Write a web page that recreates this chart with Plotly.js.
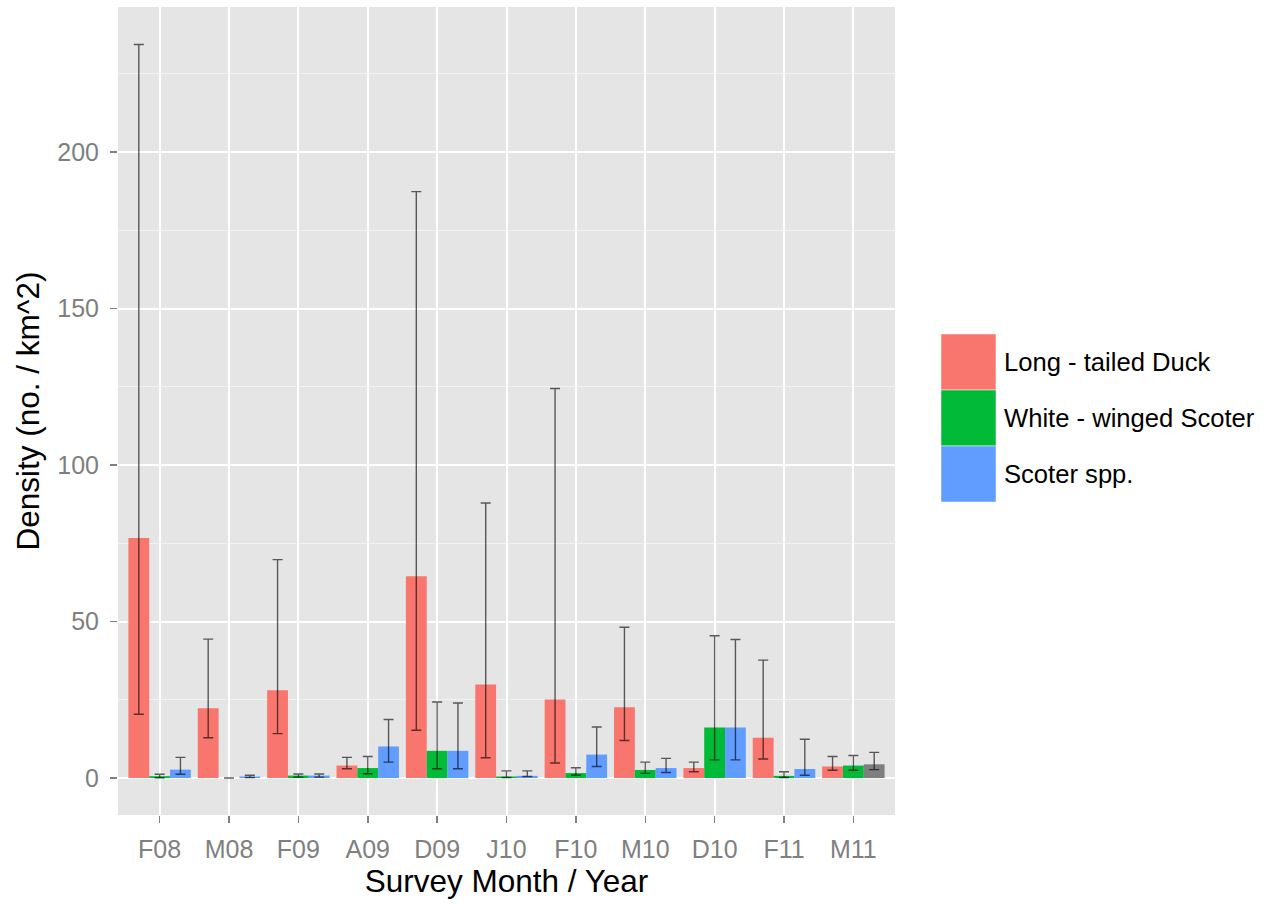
<!DOCTYPE html>
<html>
<head>
<meta charset="utf-8">
<script src="https://cdn.plot.ly/plotly-3.0.1.min.js"></script>
<style>html,body{margin:0;padding:0;background:#fff;}#chart{width:1269px;height:904px;}</style>
</head>
<body>
<div id="chart"></div>
<script>
var categories = ['F08','M08','F09','A09','D09','J10','F10','M10','D10','F11','M11'];
var seriesNames = ['Long - tailed Duck','White - winged Scoter','Scoter spp.'];

var ltd   = [76.7, 22.3, 28.1, 4.0, 64.5, 29.9, 25.1, 22.6, 3.2, 12.9, 3.7];
var ltdLo = [20.4, 12.9, 14.2, 3.0, 15.3, 6.5, 4.8, 12.0, 2.0, 6.1, 2.5];
var ltdHi = [234.4, 44.4, 69.8, 6.6, 187.4, 87.9, 124.5, 48.2, 5.1, 37.7, 6.9];

var wws   = [0.6, 0.0, 0.8, 3.2, 8.7, 0.5, 1.6, 2.6, 16.2, 0.7, 4.0];
var wwsLo = [0.1, 0.0, 0.3, 1.4, 3.0, 0.2, 0.9, 1.5, 5.8, 0.2, 2.5];
var wwsHi = [1.2, 0.0, 1.3, 6.9, 24.3, 2.3, 3.3, 5.1, 45.5, 2.0, 7.2];

var scoter   = [2.7, 0.5, 0.8, 10.1, 8.7, 0.7, 7.5, 3.2, 16.2, 2.9, 4.4];
var scoterLo = [1.2, 0.2, 0.3, 5.1, 3.0, 0.5, 3.7, 1.8, 5.8, 0.9, 2.7];
var scoterHi = [6.6, 0.9, 1.3, 18.7, 24.0, 2.3, 16.3, 6.3, 44.3, 12.4, 8.2];
// third bar species label per month (M11 is unlabelled / NA)
var thirdGroup = ['Scoter spp.','Scoter spp.','Scoter spp.','Scoter spp.','Scoter spp.','Scoter spp.','Scoter spp.','Scoter spp.','Scoter spp.','Scoter spp.','NA'];

var colors = {'Long - tailed Duck':'#F8766D','White - winged Scoter':'#00BA38','Scoter spp.':'#619CFF','NA':'#7F7F7F'};
var errStyle = {color:'rgba(0,0,0,0.62)', thickness:1.4, width:5};

function mkTrace(name, vals, lo, hi, cols){
  return {
    type:'bar', name:name, x:categories, y:vals,
    marker:{color:cols, line:{width:0}},
    error_y:Object.assign({type:'data', symmetric:false,
      array:hi.map(function(h,i){return h-vals[i];}),
      arrayminus:lo.map(function(l,i){return vals[i]-l;})}, errStyle),
    showlegend:false, hoverinfo:'x+y+name'
  };
}

var traces = [
  mkTrace(seriesNames[0], ltd, ltdLo, ltdHi, colors[seriesNames[0]]),
  mkTrace(seriesNames[1], wws, wwsLo, wwsHi, colors[seriesNames[1]]),
  mkTrace(seriesNames[2], scoter, scoterLo, scoterHi, thirdGroup.map(function(g){return colors[g];}))
];

// custom ggplot-style legend
var shapes = [], annotations = [];
var legX0 = 941, legX1 = 996, legY0 = 334, keyH = 56;
function px2paperX(px){ return (px-118)/(1269-118-374); }
function px2paperY(py){ return (904-89-py)/(904-7-89); }
seriesNames.forEach(function(n,i){
  shapes.push({type:'rect', xref:'paper', yref:'paper',
    x0:px2paperX(legX0), x1:px2paperX(legX1),
    y0:px2paperY(legY0+keyH*(i+1)), y1:px2paperY(legY0+keyH*i),
    fillcolor:colors[n], line:{width:0.5, color:'#ffffff'}});
  annotations.push({xref:'paper', yref:'paper', x:px2paperX(1002), y:px2paperY(legY0+keyH*i+keyH/2),
    xanchor:'left', yanchor:'middle', text:n, showarrow:false,
    font:{family:'Liberation Sans, Arial, sans-serif', size:25.6, color:'#000'}});
});

var layout = {
  width:1269, height:904,
  margin:{l:118, r:374, t:7, b:89},
  paper_bgcolor:'#ffffff', plot_bgcolor:'#E5E5E5',
  font:{family:'Liberation Sans, Arial, sans-serif'},
  barmode:'group', bargap:0.1, bargroupgap:0,
  showlegend:false,
  xaxis:{type:'category', range:[-0.6, 10.6], showgrid:true, gridcolor:'#ffffff', gridwidth:2,
    ticks:'outside', ticklen:7, tickwidth:1.5, tickcolor:'#7F7F7F', ticklabelstandoff:5,
    tickfont:{size:25, color:'#7F7F7F'}, zeroline:false, showline:false,
    title:{text:'Survey Month / Year', font:{size:31.5, color:'#000'}, standoff:5}},
  yaxis:{range:[-11.8, 246.4], dtick:50, tick0:0, showgrid:true, gridcolor:'#ffffff', gridwidth:2,
    minor:{dtick:25, tick0:0, showgrid:true, gridcolor:'#F2F2F2', gridwidth:1},
    ticks:'outside', ticklen:7, tickwidth:1.5, tickcolor:'#7F7F7F', ticklabelstandoff:6,
    tickfont:{size:25, color:'#7F7F7F'}, zeroline:false, showline:false,
    title:{text:'Density (no. / km^2)', font:{size:31.5, color:'#000'}, standoff:8}},
  shapes:shapes, annotations:annotations
};

Plotly.newPlot('chart', traces, layout, {displayModeBar:false, staticPlot:true});
</script>
</body>
</html>
